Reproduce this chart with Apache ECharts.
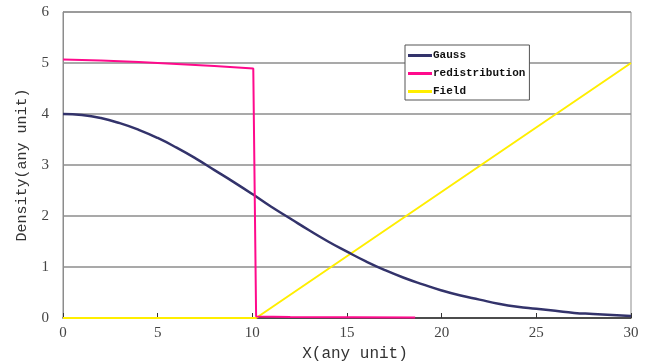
<!DOCTYPE html>
<html><head><meta charset="utf-8">
<script src="https://cdn.jsdelivr.net/npm/echarts@6/dist/echarts.min.js"></script>
<style>html,body{margin:0;padding:0;background:#fff}#c{width:649px;height:363px}</style>
</head><body><div id="c"></div>
<script>
const xTicks = [0, 5, 10, 15, 20, 25, 30];
const yTicks = [0, 1, 2, 3, 4, 5, 6];
const gaussX = [0,1,2,3,4,5,6,7,8,9,10,11,12,13,14,15,16,17,18,19,20,21,22,23,24,25,26,27,28,29,30];
const gaussY = [4.00,3.98,3.92,3.82,3.69,3.53,3.34,3.13,2.90,2.67,2.43,2.18,1.95,1.72,1.50,1.30,1.11,0.94,0.79,0.66,0.54,0.44,0.36,0.28,0.22,0.18,0.14,0.10,0.08,0.06,0.04];
const redistX = [0, 2, 4, 6, 8, 10.05, 10.2, 12, 18.6];
const redistY = [5.07, 5.05, 5.02, 4.98, 4.94, 4.89, 0.03, 0.02, 0.01];
const fieldX = [0, 10.2, 30];
const fieldY = [0, 0, 5];

const pair = (xs, ys) => xs.map((x, i) => [x, ys[i]]);
const chart = echarts.init(document.getElementById('c'), null, {renderer: 'canvas'});
const serif = '"Liberation Serif", "DejaVu Serif", serif';
const mono = '"Liberation Mono", "DejaVu Sans Mono", monospace';
chart.setOption({
  animation: false,
  backgroundColor: '#ffffff',
  grid: {left: 63, right: 18, top: 12, bottom: 45, outerBoundsMode: 'none', containLabel: false,
         show: true, borderColor: '#8c8c8c', borderWidth: 1, backgroundColor: 'transparent'},
  legend: {
    orient: 'vertical', left: 405, top: 45, padding: [4, 4, 2, 3],
    backgroundColor: '#ffffff', borderColor: '#555555', borderWidth: 1, borderRadius: 0,
    itemWidth: 24, itemHeight: 3, itemGap: 5, icon: 'rect',
    textStyle: {fontFamily: mono, fontSize: 11, lineHeight: 13, color: '#111', fontWeight: 'bold', padding: [0, 0, 0, -4]},
    data: ['Gauss', 'redistribution', 'Field']
  },
  xAxis: {
    type: 'value', min: xTicks[0], max: xTicks[xTicks.length - 1], interval: 5,
    name: 'X(any unit)', nameLocation: 'middle', nameGap: 25,
    nameTextStyle: {fontFamily: mono, fontSize: 16, color: '#333', padding: [0, 0, 0, 16]},
    axisLine: {show: true, lineStyle: {color: '#333', width: 1.5}},
    axisTick: {show: true, inside: true, length: 5, lineStyle: {color: '#333'}},
    axisLabel: {fontFamily: serif, fontSize: 15, color: '#444', margin: 8},
    splitLine: {show: false}
  },
  yAxis: {
    type: 'value', min: yTicks[0], max: yTicks[yTicks.length - 1], interval: 1,
    name: 'Density(any unit)', nameLocation: 'middle', nameGap: 33, nameRotate: 90,
    nameTextStyle: {fontFamily: mono, fontSize: 15, color: '#333'},
    axisLine: {show: true, lineStyle: {color: '#8c8c8c', width: 1}},
    axisTick: {show: false},
    axisLabel: {fontFamily: serif, fontSize: 15, color: '#444', margin: 14},
    splitLine: {show: true, lineStyle: {color: '#8c8c8c', width: 1.5}}
  },
  series: [
    {name: 'Gauss', type: 'line', data: pair(gaussX, gaussY), showSymbol: false, smooth: true,
     lineStyle: {color: '#33336b', width: 2.5}, itemStyle: {color: '#33336b'}, z: 3},
    {name: 'redistribution', type: 'line', data: pair(redistX, redistY), showSymbol: false,
     lineStyle: {color: '#ff0a8c', width: 2}, itemStyle: {color: '#ff0a8c'}, z: 4},
    {name: 'Field', type: 'line', data: pair(fieldX, fieldY), showSymbol: false,
     lineStyle: {color: '#ffee00', width: 2}, itemStyle: {color: '#ffee00'}, z: 2}
  ]
});
</script></body></html>
